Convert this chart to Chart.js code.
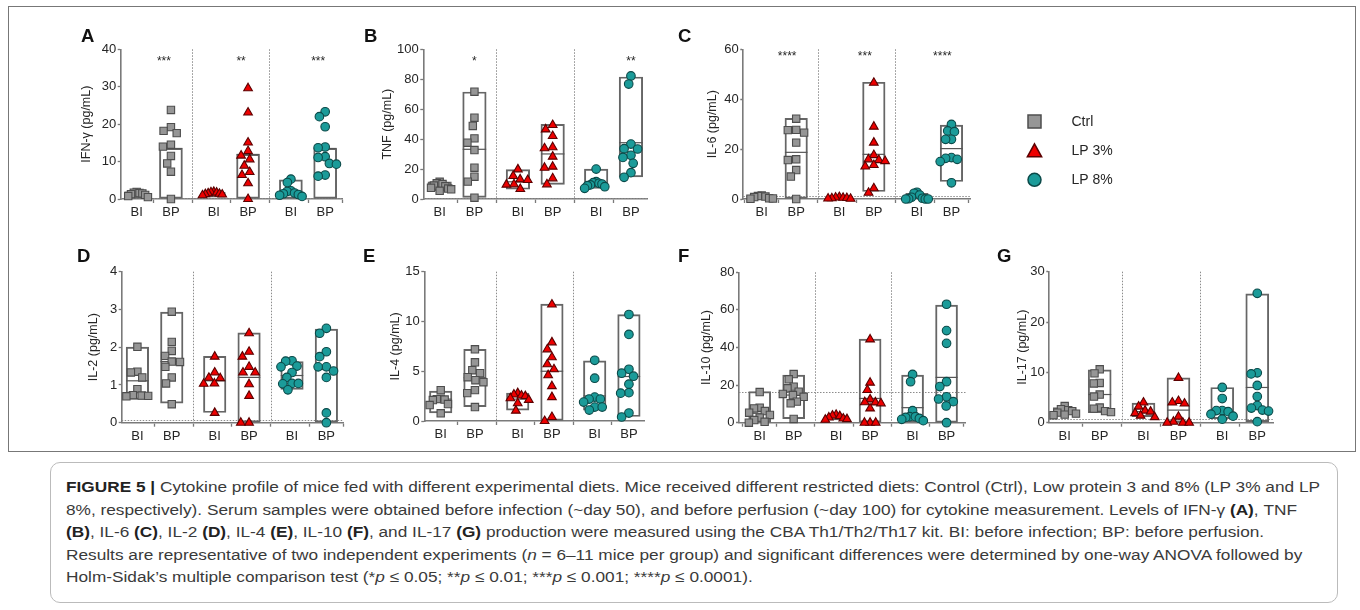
<!DOCTYPE html>
<html><head><meta charset="utf-8">
<script src="https://cdn.jsdelivr.net/npm/chart.js@4.4.1/dist/chart.umd.min.js"></script>
<style>
html,body{margin:0;padding:0;background:#fff;width:1360px;height:610px;overflow:hidden;position:relative;font-family:"Liberation Sans",Arial,sans-serif;}
canvas{position:absolute;}
#frame{position:absolute;left:8px;top:6px;width:1348px;height:446px;border:1px solid #777;box-sizing:border-box;}
#capbox{position:absolute;left:50px;top:462px;width:1288px;height:141px;border:1px solid #bbb;border-radius:10px;box-sizing:border-box;}
#caption{position:absolute;left:66px;top:476px;color:#3a3a3a;font-size:15.5px;line-height:22.5px;white-space:nowrap;transform-origin:0 0;}
#caption b{font-weight:bold;color:#222;}
#caption span{display:inline-block;}
</style></head><body>
<div id="frame"></div>
<div id="capbox"></div>
<div id="caption">
<div><span id="ln1"><b>FIGURE 5 |</b> Cytokine profile of mice fed with different experimental diets. Mice received different restricted diets: Control (Ctrl), Low protein 3 and 8% (LP 3% and LP</span></div>
<div><span>8%, respectively). Serum samples were obtained before infection (~day 50), and before perfusion (~day 100) for cytokine measurement. Levels of IFN-γ <b>(A)</b>, TNF</span></div>
<div><span><b>(B)</b>, IL-6 <b>(C)</b>, IL-2 <b>(D)</b>, IL-4 <b>(E)</b>, IL-10 <b>(F)</b>, and IL-17 <b>(G)</b> production were measured using the CBA Th1/Th2/Th17 kit. BI: before infection; BP: before perfusion.</span></div>
<div><span>Results are representative of two independent experiments (<i>n</i> = 6–11 mice per group) and significant differences were determined by one-way ANOVA followed by</span></div>
<div><span>Holm-Sidak’s multiple comparison test (*<i>p</i> ≤ 0.05; **<i>p</i> ≤ 0.01; ***<i>p</i> ≤ 0.001; ****<i>p</i> ≤ 0.0001).</span></div>
</div>
<script>
// ---------------- DATA ----------------
const xTickLabels = ['BI', 'BP', 'BI', 'BP', 'BI', 'BP'];
const seriesNames = ['Ctrl', 'LP 3%', 'LP 8%'];

// A: IFN-γ
const ifnCtrlBI = [1.9, 1.7, 1.6, 1.5, 1.3, 1.1, 0.8, 0.5];
const ifnCtrlBP = [23.8, 19.2, 18.2, 17.6, 14.5, 14.0, 11.5, 9.5, 7.3, 0];
const ifnLp3BI = [1.9, 1.8, 1.7, 1.5, 1.4, 1.3, 1.2, 1.0];
const ifnLp3BP = [29.6, 23.1, 15.1, 12.8, 11.6, 10.6, 8.9, 7.2, 6.4, 4.2, 0];
const ifnLp8BI = [5.3, 4.4, 2.2, 2.0, 1.6, 1.4, 1.2, 1.0, 0.7];
const ifnLp8BP = [23.3, 22.0, 19.3, 13.9, 13.7, 11.3, 11.1, 9.5, 9.3, 6.4, 6.1];
const ifnBoxLow = [0, 0, 0.5, 0, 0, 0];
const ifnBoxHigh = [1.9, 13.5, 1.8, 11.9, 5.1, 13.5];
const ifnLine = [1.3, 13.5, 1.3, 11.9, 2.0, 13.5];
const ifnStars = ['***', '**', '***'];
const ifnLod = 0.35;

// B: TNF
const tnfCtrlBI = [11.5, 10.5, 10.0, 9.0, 8.5, 7.5, 7.0, 6.5, 5.5];
const tnfCtrlBP = [71.7, 54.3, 48.8, 40.5, 37.6, 32.7, 20.9, 14.9, 11.6, 0.9];
const tnfLp3BI = [19.8, 15.4, 13.1, 12.7, 9.8, 9.6, 6.7];
const tnfLp3BP = [49.4, 46.5, 42.1, 34.6, 33.9, 28.3, 21.6, 20.9, 13.8, 9.8];
const tnfLp8BI = [20.0, 11.6, 10.9, 10.5, 10.0, 9.4, 8.9, 8.2, 7.1];
const tnfLp8BP = [82.2, 76.8, 36.7, 33.6, 33.4, 29.2, 27.8, 23.8, 17.6, 14.5];
const tnfBoxLow = [5.5, 1.0, 6.5, 9.8, 7.0, 14.8];
const tnfBoxHigh = [11.5, 71.5, 19.6, 49.9, 20.0, 81.5];
const tnfLine = [8.5, 33.2, 11.5, 30.1, 10.0, 37.6];
const tnfStars = ['*', '', '**'];
const tnfLod = 0.5;

// C: IL-6
const il6CtrlBI = [1.4, 1.2, 1.0, 0.8, 0.3, 0.2, 0.1];
const il6CtrlBP = [32.2, 27.7, 27.6, 26.6, 22.6, 15.9, 15.6, 11.6, 9.0, 0];
const il6Lp3BI = [0.8, 0.6, 0.5, 0.4, 0.3, 0.2, 0.1];
const il6Lp3BP = [46.6, 29.0, 22.6, 17.6, 15.9, 15.6, 15.2, 13.6, 13.0, 4.3, 2.5];
const il6Lp8BI = [2.7, 2.3, 1.6, 0.7, 0.3, 0.1, 0, 0, 0];
const il6Lp8BP = [29.9, 27.3, 27.0, 23.9, 23.9, 16.6, 16.3, 15.9, 15.0, 6.5];
const il6BoxLow = [0, 0, 0, 3.0, 0, 7.0];
const il6BoxHigh = [1.3, 32.3, 0.8, 46.8, 2.3, 29.6];
const il6Line = [0.5, 18.7, 0.4, 17.9, 1.0, 20.2];
const il6Stars = ['****', '***', '****'];
const il6Lod = 1.2;

// D: IL-2
const il2CtrlBI = [2.01, 1.35, 1.33, 1.20, 0.89, 0.73, 0.72, 0.71, 0.70];
const il2CtrlBP = [2.94, 2.14, 1.90, 1.77, 1.62, 1.61, 1.48, 1.20, 1.04, 0.49];
const il2Lp3BI = [1.75, 1.33, 1.19, 1.18, 1.04, 1.03, 0.26];
const il2Lp3BP = [2.37, 1.88, 1.75, 1.48, 1.33, 1.33, 1.02, 0.71, 0, 0];
const il2Lp8BI = [1.64, 1.63, 1.50, 1.48, 1.33, 1.20, 1.04, 1.04, 1.03, 0.87];
const il2Lp8BP = [2.50, 2.37, 1.88, 1.75, 1.48, 1.48, 1.37, 1.20, 0.26, 0];
const il2BoxLow = [0.62, 0.52, 0.27, 0, 0.88, 0];
const il2BoxHigh = [2.0, 2.93, 1.76, 2.38, 1.62, 2.48];
const il2Line = [1.11, 1.62, 1.11, 1.2, 1.25, 1.41];
const il2Lod = 0.08;

// E: IL-4
const il4CtrlBI = [3.1, 2.25, 2.2, 2.15, 2.1, 1.7, 1.6, 0.77];
const il4CtrlBP = [7.2, 5.9, 5.1, 4.8, 4.4, 4.1, 3.9, 3.1, 2.8, 1.4];
const il4Lp3BI = [2.8, 2.66, 2.56, 2.5, 2.29, 2.12, 1.78, 1.04];
const il4Lp3BP = [11.7, 7.9, 7.2, 6.4, 5.7, 5.2, 4.6, 3.5, 2.4, 0.4, 0];
const il4Lp8BI = [6.1, 4.3, 2.4, 2.2, 2.2, 1.9, 1.4, 1.4, 1.1];
const il4Lp8BP = [10.7, 8.7, 5.2, 4.8, 4.5, 3.7, 2.85, 2.8, 0.8, 0.4];
const il4BoxLow = [0.81, 1.45, 1.1, 0, 1.1, 0.45];
const il4BoxHigh = [3.0, 7.2, 2.8, 11.75, 6.05, 10.7];
const il4Line = [2.2, 4.35, 2.2, 5.0, 2.52, 4.47];
const il4Lod = null;

// F: IL-10
const il10CtrlBI = [16.3, 8.0, 7.6, 6.2, 5.3, 4.1, 2.7, 1.4, 0.5, 0];
const il10CtrlBP = [25.9, 23.1, 19.2, 18.3, 16.5, 15.3, 14.7, 13.8, 11.2, 10.3, 2.0];
const il10Lp3BI = [4.2, 3.8, 3.5, 2.8, 2.2, 1.9, 1.6];
const il10Lp3BP = [44.3, 21.3, 17.4, 12.4, 10.9, 10.8, 10.3, 7.6, 0, 0, 0];
const il10Lp8BI = [25.7, 21.8, 6.4, 3.2, 3.2, 2.8, 2.3, 1.8, 1.1];
const il10Lp8BP = [63.0, 49.0, 42.2, 21.8, 19.2, 13.8, 12.6, 11.2, 8.9, 0];
const il10BoxLow = [0, 2.2, 1.5, 0, 0.5, 0.2];
const il10BoxHigh = [16.5, 25.3, 3.8, 44.5, 25.3, 62.6];
const il10Line = [5.0, 14.7, 2.7, 12.9, 8.0, 24.1];
const il10Lod = 16.5;

// G: IL-17
const il17CtrlBI = [3.3, 2.7, 2.5, 2.3, 2.0, 1.8, 1.6, 1.5];
const il17CtrlBP = [10.6, 9.8, 7.9, 7.8, 5.6, 5.2, 3.0, 2.8, 2.3, 2.1];
const il17Lp3BI = [4.0, 3.2, 2.4, 2.2, 1.9, 1.4, 1.1];
const il17Lp3BP = [8.9, 4.3, 4.0, 3.8, 1.2, 0.2, 0, 0, 0];
const il17Lp8BI = [7.0, 4.8, 2.4, 2.4, 2.2, 1.7, 1.3, 0.7];
const il17Lp8BP = [25.7, 9.9, 9.7, 7.4, 5.2, 3.4, 2.9, 2.5, 2.3, 0.2];
const il17BoxLow = [1.6, 2.0, 1.2, 0, 0.8, 0.2];
const il17BoxHigh = [3.0, 10.5, 3.9, 8.9, 7.0, 25.6];
const il17Line = [2.2, 5.6, 2.2, 2.5, 2.0, 7.0];
const il17Lod = 0.7;

// ---------------- LAYOUT / STYLE ----------------
const POS = [0, 1, 2.25, 3.25, 4.5, 5.5];
const DIVS = [1.625, 3.875];
const FONT = '"Liberation Sans", Arial, sans-serif';
const TXT = '#262626';
const AXC = '#7a7a7a';
const STY = [
  { style: 'rect', r: 5.2, fill: '#969696', stroke: '#4d4d4d' },
  { style: 'triangle', r: 5.0, fill: '#ee0000', stroke: '#5c0000' },
  { style: 'circle', r: 4.3, fill: '#1b9b99', stroke: '#0b4a49' }
];

const panels = [
  { letter: 'A', title: 'IFN-γ (pg/mL)', ymax: 40, step: 10, groups: [ifnCtrlBI, ifnCtrlBP, ifnLp3BI, ifnLp3BP, ifnLp8BI, ifnLp8BP], low: ifnBoxLow, high: ifnBoxHigh, line: ifnLine, stars: ifnStars, lod: ifnLod,
    axisX: 120.7, right: 347, top: 49.3, bottom: 199, x0: 137, unit: 35, gap: 33.7, lx: 81, ly: 41.7, starY: 58.3, starDx: -7, barW: 23 },
  { letter: 'B', title: 'TNF (pg/mL)', ymax: 100, step: 20, groups: [tnfCtrlBI, tnfCtrlBP, tnfLp3BI, tnfLp3BP, tnfLp8BI, tnfLp8BP], low: tnfBoxLow, high: tnfBoxHigh, line: tnfLine, stars: tnfStars, lod: tnfLod,
    axisX: 423.3, right: 651.7, top: 49.3, bottom: 199, x0: 440, unit: 35.5, gap: 36, lx: 364, ly: 41.7, starY: 58.3, starDx: 0, barW: 23.5 },
  { letter: 'C', title: 'IL-6 (pg/mL)', ymax: 60, step: 20, groups: [il6CtrlBI, il6CtrlBP, il6Lp3BI, il6Lp3BP, il6Lp8BI, il6Lp8BP], low: il6BoxLow, high: il6BoxHigh, line: il6Line, stars: il6Stars, lod: il6Lod,
    axisX: 743.3, right: 970, top: 49.3, bottom: 199, x0: 761.7, unit: 34.5, gap: 30.6, lx: 678, ly: 41.7, starY: 53.3, starDx: -9, barW: 22.5, legend: true },
  { letter: 'D', title: 'IL-2 (pg/mL)', ymax: 4, step: 1, groups: [il2CtrlBI, il2CtrlBP, il2Lp3BI, il2Lp3BP, il2Lp8BI, il2Lp8BP], low: il2BoxLow, high: il2BoxHigh, line: il2Line, stars: null, lod: il2Lod,
    axisX: 121.7, right: 347.7, top: 271.7, bottom: 422.7, x0: 137.7, unit: 35, gap: 28.4, lx: 77, ly: 261.7, barW: 22.5 },
  { letter: 'E', title: 'IL-4 (pg/mL)', ymax: 15, step: 5, groups: [il4CtrlBI, il4CtrlBP, il4Lp3BI, il4Lp3BP, il4Lp8BI, il4Lp8BP], low: il4BoxLow, high: il4BoxHigh, line: il4Line, stars: null, lod: il4Lod,
    axisX: 424.3, right: 648.3, top: 271.7, bottom: 421, x0: 441, unit: 34.8, gap: 28.3, lx: 363, ly: 261.7, barW: 22.5 },
  { letter: 'F', title: 'IL-10 (pg/mL)', ymax: 80, step: 20, groups: [il10CtrlBI, il10CtrlBP, il10Lp3BI, il10Lp3BP, il10Lp8BI, il10Lp8BP], low: il10BoxLow, high: il10BoxHigh, line: il10Line, stars: null, lod: il10Lod,
    axisX: 739, right: 969.3, top: 272.3, bottom: 422.7, x0: 760, unit: 34.5, gap: 32.3, lx: 678, ly: 261.7, barW: 22 },
  { letter: 'G', title: 'IL-17 (pg/mL)', ymax: 30, step: 10, groups: [il17CtrlBI, il17CtrlBP, il17Lp3BI, il17Lp3BP, il17Lp8BI, il17Lp8BP], low: il17BoxLow, high: il17BoxHigh, line: il17Line, stars: null, lod: il17Lod,
    axisX: 1049.3, right: 1277.7, top: 271.7, bottom: 422.7, x0: 1065, unit: 35.7, gap: 26.6, lx: 997, ly: 261.7, barW: 23 }
];

// beeswarm offsets (pixels) computed from the values, then squeezed to fit the box width
function swarm(vals, pxY, D, limit) {
  const idx = vals.map((v, i) => i).sort((a, b) => vals[b] - vals[a] || a - b);
  const placed = [], off = new Array(vals.length).fill(0);
  idx.forEach(i => {
    const y = vals[i] * pxY;
    const forb = [];
    placed.forEach(p => {
      const dy = Math.abs(p.y - y);
      if (dy < D) { const dx = Math.sqrt(D * D - dy * dy); forb.push([p.x - dx, p.x + dx]); }
    });
    const cands = [0];
    forb.forEach(f => cands.push(f[0], f[1]));
    cands.sort((a, b) => Math.abs(a) - Math.abs(b) || a - b);
    const x = cands.find(c => forb.every(f => c <= f[0] + 1e-6 || c >= f[1] - 1e-6));
    placed.push({ x, y }); off[i] = x;
  });
  const mx = Math.max(...off.map(Math.abs));
  const k = mx > limit ? limit / mx : 1;
  return off.map(o => o * k);
}

function drawMarker(ctx, style, x, y, s, fill, stroke) {
  ctx.save();
  ctx.fillStyle = fill; ctx.strokeStyle = stroke; ctx.lineWidth = 1.5;
  ctx.beginPath();
  if (style === 'rect') ctx.rect(x - s / 2, y - s / 2, s, s);
  else if (style === 'triangle') { ctx.moveTo(x, y - s / 2); ctx.lineTo(x + s * 0.55, y + s / 2); ctx.lineTo(x - s * 0.55, y + s / 2); ctx.closePath(); }
  else ctx.arc(x, y, s / 2, 0, Math.PI * 2);
  ctx.fill(); ctx.stroke();
  ctx.restore();
}

function makePanel(p) {
  const plotW = p.right - p.axisX, plotH = p.bottom - p.top;
  const xmin = (p.axisX - p.x0) / p.unit, xmax = (p.right - p.x0) / p.unit;
  const pxX = plotW / (xmax - xmin), pxY = plotH / p.ymax;
  const Wy = p.gap + 4 + 12.5 * 1.2 / 2;
  const HX = 30;
  const cLeft = Math.floor(Math.min(p.axisX - Wy - 4, p.lx - 4));
  const cTop = Math.floor(p.top - 36);
  const padL = p.axisX - Wy - cLeft;
  const padT = p.top - cTop;
  const extraR = p.legend ? 160 : 8;
  const cw = Math.ceil(padL + Wy + plotW + extraR);
  const ch = Math.ceil(padT + plotH + HX + 4);
  const padR = cw - (padL + Wy + plotW);
  const padB = ch - (padT + plotH + HX);

  const canvas = document.createElement('canvas');
  canvas.width = cw; canvas.height = ch;
  canvas.style.left = cLeft + 'px'; canvas.style.top = cTop + 'px';
  canvas.style.width = cw + 'px'; canvas.style.height = ch + 'px';
  document.body.appendChild(canvas);

  const datasets = [];
  datasets.push({
    type: 'bar', order: 3, clip: false,
    data: POS.map((x, i) => ({ x, y: [p.low[i], p.high[i]] })),
    backgroundColor: 'rgba(255,255,255,0)', borderColor: '#666', borderWidth: 1.3,
    borderSkipped: false, barThickness: p.barW
  });
  datasets.push({
    type: 'scatter', order: 2, clip: false,
    data: POS.map((x, i) => ({ x, y: p.line[i] })),
    pointStyle: 'line', pointRadius: p.barW / 2, pointHoverRadius: p.barW / 2,
    pointBorderColor: '#555', pointBorderWidth: 1.2, pointBackgroundColor: '#555'
  });
  STY.forEach((s, d) => {
    const pts = [];
    [2 * d, 2 * d + 1].forEach(g => {
      const vals = p.groups[g];
      const off = swarm(vals, pxY, 8.4, p.barW / 2);
      vals.forEach((v, k) => pts.push({ x: POS[g] + off[k] / pxX, y: v }));
    });
    datasets.push({
      type: 'scatter', order: 1, clip: false, label: seriesNames[d], data: pts,
      pointStyle: s.style, pointRadius: s.r, pointHoverRadius: s.r,
      pointBackgroundColor: s.fill, pointBorderColor: s.stroke, pointBorderWidth: 1.1
    });
  });

  const deco = {
    id: 'deco' + p.letter,
    beforeDatasetsDraw(chart) {
      const { ctx, chartArea: a, scales: { x, y } } = chart;
      ctx.save();
      ctx.strokeStyle = '#8c8c8c'; ctx.lineWidth = 1; ctx.setLineDash([1.5, 1.5]);
      DIVS.forEach(dv => {
        const px = Math.round(x.getPixelForValue(dv)) + 0.5;
        ctx.beginPath(); ctx.moveTo(px, a.top); ctx.lineTo(px, a.bottom); ctx.stroke();
      });
      if (p.lod != null) {
        const py = Math.round(y.getPixelForValue(p.lod)) + 0.5;
        ctx.beginPath(); ctx.moveTo(a.left, py); ctx.lineTo(a.right, py); ctx.stroke();
      }
      ctx.restore();
    },
    afterDraw(chart) {
      const { ctx, scales: { x } } = chart;
      ctx.save();
      ctx.fillStyle = '#111';
      ctx.font = 'bold 18.5px ' + FONT;
      ctx.textAlign = 'left'; ctx.textBaseline = 'alphabetic';
      ctx.fillText(p.letter, p.lx - cLeft, p.ly - cTop);
      if (p.stars) {
        ctx.font = '12px ' + FONT; ctx.textAlign = 'center'; ctx.fillStyle = TXT;
        p.stars.forEach((s, d) => {
          if (!s) return;
          ctx.fillText(s, x.getPixelForValue(POS[2 * d + 1]) + p.starDx, p.starY + 7 - cTop);
        });
      }
      if (p.legend) {
        const ys = [121.6, 150.3, 179.8];
        STY.forEach((s, d) => {
          drawMarker(ctx, s.style, 1034.5 - cLeft, ys[d] - cTop, 13, s.fill, s.stroke);
          ctx.fillStyle = TXT; ctx.font = '14px ' + FONT; ctx.textAlign = 'left'; ctx.textBaseline = 'middle';
          ctx.fillText(seriesNames[d], 1071.5 - cLeft, ys[d] - cTop + 0.5);
        });
      }
      ctx.restore();
    }
  };

  new Chart(canvas, {
    type: 'bar',
    data: { datasets },
    options: {
      responsive: false, animation: false, devicePixelRatio: 1, events: [],
      layout: { padding: { left: padL, top: padT, right: padR, bottom: padB } },
      plugins: { legend: { display: false }, tooltip: { enabled: false } },
      scales: {
        x: {
          type: 'linear', min: xmin, max: xmax, offset: false,
          afterBuildTicks: s => { s.ticks = POS.map(v => ({ value: v })); },
          afterFit: s => { s.height = HX; },
          ticks: {
            autoSkip: false, maxRotation: 0, padding: 2, color: TXT,
            font: { family: FONT, size: 13 },
            callback: v => { const i = POS.findIndex(q => Math.abs(q - v) < 1e-6); return i >= 0 ? xTickLabels[i] : ''; }
          },
          grid: { display: true, drawOnChartArea: false, drawTicks: true, tickLength: 4, tickColor: AXC, tickWidth: 1.3 },
          border: { display: true, color: AXC, width: 1.6 }
        },
        y: {
          type: 'linear', min: 0, max: p.ymax,
          afterFit: s => { s.width = Wy; },
          ticks: { stepSize: p.step, padding: 1.5, color: TXT, font: { family: FONT, size: 13 } },
          grid: { display: true, drawOnChartArea: false, drawTicks: true, tickLength: 3, tickColor: AXC, tickWidth: 1.3 },
          border: { display: true, color: AXC, width: 1.6 },
          title: { display: true, text: p.title, color: TXT, font: { family: FONT, size: 12.5 }, padding: { top: 4, bottom: 4 } }
        }
      }
    },
    plugins: [deco]
  });
}

panels.forEach(makePanel);

// fit caption first line width
(function () {
  const cap = document.getElementById('caption');
  const w = document.getElementById('ln1').getBoundingClientRect().width;
  const k = 1254 / w;
  cap.style.transform = 'scaleX(' + k + ')';
})();
</script>
</body></html>
